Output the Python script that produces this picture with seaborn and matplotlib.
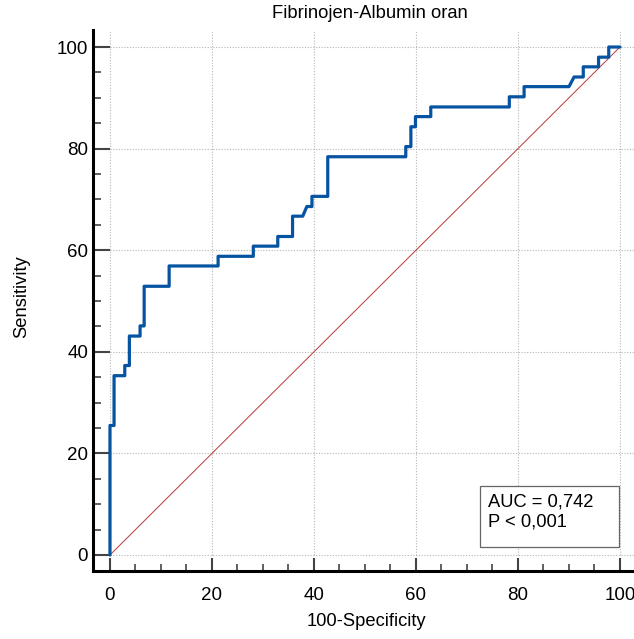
import matplotlib
matplotlib.use("Agg")
import matplotlib.pyplot as plt
import matplotlib.patches as mpatches
from matplotlib.ticker import MultipleLocator
import seaborn as sns

# texts
title = "Fibrinojen-Albumin oran"
x_label = "100-Specificity"
y_label = "Sensitivity"
auc_text = "AUC = 0,742"
p_text = "P < 0,001"

# ROC curve vertices (100-specificity, sensitivity)
fpr = [0, 0, 0.8, 0.8, 2.9, 2.9, 3.8, 3.8, 5.9, 5.9, 6.7, 6.7, 11.6, 11.6,
       21.2, 21.2, 28.1, 28.1, 32.9, 32.9, 35.8, 35.8, 37.8, 38.6, 39.6, 39.6,
       42.7, 42.7, 58.0, 58.0, 59.0, 59.0, 59.9, 59.9, 62.9, 62.9, 78.3, 78.3,
       81.2, 81.2, 90.0, 91.0, 92.8, 92.8, 95.8, 95.8, 97.8, 97.8, 100]
tpr = [0, 25.5, 25.5, 35.3, 35.3, 37.3, 37.3, 43.1, 43.1, 45.1, 45.1, 52.9, 52.9, 56.9,
       56.9, 58.8, 58.8, 60.8, 60.8, 62.7, 62.7, 66.7, 66.7, 68.6, 68.6, 70.6,
       70.6, 78.4, 78.4, 80.4, 80.4, 84.3, 84.3, 86.3, 86.3, 88.2, 88.2, 90.2,
       90.2, 92.2, 92.2, 94.1, 94.1, 96.1, 96.1, 98.0, 98.0, 100, 100]

# reference (chance) line
ref_x = [0, 100]
ref_y = [0, 100]

ticks = [0, 20, 40, 60, 80, 100]

sns.set_theme(style="white")
plt.rcParams["font.family"] = ["Liberation Sans", "DejaVu Sans"]

W, H = 634, 639
fig = plt.figure(figsize=(W / 100, H / 100), dpi=100)
ax = fig.add_axes([93 / W, 1 - 571 / H, 541 / W, 541 / H])

xlim = (-3.33, 102.75)
ylim = (-3.15, 103.35)
ax.set_xlim(*xlim)
ax.set_ylim(*ylim)

# dotted grid, only over the data range
grid_kw = dict(colors="#b5b5b5", linewidth=0.8, linestyles=(0, (1, 1.5)), zorder=0)
ax.vlines(ticks, 0, ylim[1], **grid_kw)
ax.hlines(ticks, 0, xlim[1], **grid_kw)

sns.lineplot(x=ref_x, y=ref_y, ax=ax, color="#b8383a", linewidth=0.7, zorder=2)
sns.lineplot(x=fpr, y=tpr, ax=ax, estimator=None, sort=False,
             color="#0553a1", linewidth=2.3, zorder=3)

for side in ["top", "right"]:
    ax.spines[side].set_visible(False)
for side in ["left", "bottom"]:
    ax.spines[side].set_color("black")
    ax.spines[side].set_linewidth(2.2)

ax.set_xticks(ticks)
ax.set_yticks(ticks)
ax.xaxis.set_minor_locator(MultipleLocator(5))
ax.yaxis.set_minor_locator(MultipleLocator(5))
ax.tick_params(which="both", direction="in", color="#444444", bottom=True, left=True)
ax.tick_params(axis="x", which="major", length=9.5, width=1.5, labelsize=13.5, pad=11.2)
ax.tick_params(axis="x", which="minor", length=5, width=1.2)
ax.tick_params(axis="y", which="major", length=12, width=1.5, labelsize=13.5, pad=3.5)
ax.tick_params(axis="y", which="minor", length=6, width=1.2)
ax.tick_params(labelcolor="black")

ax.set_title(title, fontsize=13.2, x=0.512, pad=8.6, color="black")
ax.set_xlabel(x_label, fontsize=13.2, color="black")
ax.set_ylabel(y_label, fontsize=13.2, color="black")
ax.xaxis.set_label_coords(0.5055, -0.0776)
ax.yaxis.set_label_coords(-0.1165, 0.5074)

# AUC box
box = mpatches.Rectangle((0.7153, 0.0444), 0.257, 0.1127, transform=ax.transAxes,
                         facecolor="white", edgecolor="#666666", linewidth=0.9, zorder=4)
ax.add_patch(box)
ax.text(0.731, 0.1435, auc_text + "\n" + p_text, transform=ax.transAxes,
        fontsize=13.2, va="top", ha="left", linespacing=1.25, color="black", zorder=5)

fig.savefig("out.png", dpi=100)
